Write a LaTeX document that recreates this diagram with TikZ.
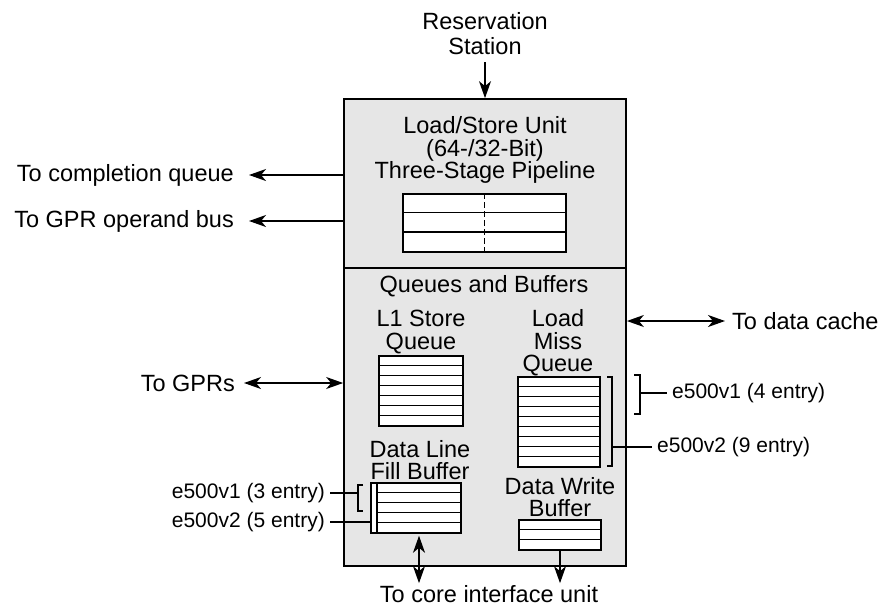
\documentclass[tikz,border=0pt]{standalone}
\usepackage{fontspec}
\setmainfont{Liberation Sans}
\usetikzlibrary{arrows.meta,positioning}
\definecolor{unitgray}{RGB}{230,230,230}
\tikzset{
    unitbox/.style={draw, line width=1.7pt, fill=unitgray, inner sep=0pt},
    queuebox/.style={draw, line width=1.5pt, fill=white, inner sep=0pt},
    rowline/.style={line width=1.4pt},
    lbl/.style={inner sep=0pt, align=center, font=\fontsize{23.5}{22.5}\selectfont},
    smalllbl/.style={inner sep=0pt, font=\fontsize{21}{21}\selectfont},
    conn/.style={line width=1.5pt, -{Stealth[length=17pt,width=12pt,inset=5pt]}},
    twoway/.style={line width=1.5pt, {Stealth[length=17pt,width=12pt,inset=5pt]}-{Stealth[length=17pt,width=12pt,inset=5pt]}},
    brk/.style={line width=1.5pt}
}
\begin{document}
\begin{tikzpicture}[x=1pt,y=-1pt]
        \useasboundingbox (0,0) rectangle (880,608);
        % unit outline
        \node[unitbox, minimum width=282pt, minimum height=298pt] (qb) at (485,417) {};
        \node[unitbox, minimum width=282pt, minimum height=169pt] (lsu) at (485,183.5) {};
        % queues and buffers
        \node[queuebox, minimum width=163pt, minimum height=58pt] (pipe) at (484.5,223) {};
        \node[queuebox, minimum width=84pt, minimum height=70pt] (stq) at (421,391) {};
        \node[queuebox, minimum width=82pt, minimum height=90pt] (lmq) at (559,422) {};
        \node[queuebox, minimum width=84pt, minimum height=50pt] (fill) at (419,508) {};
        \node[queuebox, minimum width=6pt, minimum height=50pt] (fillcol) at (374,508) {};
        \node[queuebox, minimum width=82pt, minimum height=30pt] (dwb) at (560,535) {};
        \foreach \i in {1,2} {
            \draw[rowline] ([yshift={-58pt/3*\i}]pipe.north west) -- ([yshift={-58pt/3*\i}]pipe.north east);
        };
        \draw[rowline, dash pattern=on 6pt off 3pt] (pipe.north) -- (pipe.south);
        \foreach \i in {1,...,6} {
            \draw[rowline] ([yshift={-10pt*\i}]stq.north west) -- ([yshift={-10pt*\i}]stq.north east);
        };
        \foreach \i in {1,...,8} {
            \draw[rowline] ([yshift={-10pt*\i}]lmq.north west) -- ([yshift={-10pt*\i}]lmq.north east);
        };
        \foreach \i in {1,...,4} {
            \draw[rowline] ([yshift={-10pt*\i}]fill.north west) -- ([yshift={-10pt*\i}]fill.north east);
        };
        \foreach \i in {1,2} {
            \draw[rowline] ([yshift={-10pt*\i}]dwb.north west) -- ([yshift={-10pt*\i}]dwb.north east);
        };
        % titles
        \node[lbl, font=\fontsize{23.5}{25}\selectfont] (res) at (485,34) {Reservation\\Station};
        \node[lbl] (lsutext) at (485,150) {Load/Store Unit\\(64-/32-Bit)\\Three-Stage Pipeline};
        \node[lbl] (qbtext) at (484,286) {Queues and Buffers};
        \node[lbl] (stqtext) at (421,332) {L1 Store\\Queue};
        \node[lbl] (lmqtext) at (558,343) {Load\\Miss\\Queue};
        \node[lbl] (filltext) at (420,460) {Data Line\\Fill Buffer};
        \node[lbl] (dwbtext) at (560,497) {Data Write\\Buffer};
        % outside labels
        \node[lbl, anchor=east] (cq) at (234,175) {To completion queue};
        \node[lbl, anchor=east] (gob) at (234,221) {To GPR operand bus};
        \node[lbl, anchor=east] (gprs) at (235,383) {To GPRs};
        \node[lbl, anchor=west] (dc) at (732,321) {To data cache};
        \node[lbl] (core) at (489,594) {To core interface unit};
        \node[smalllbl, anchor=west] (v1r) at (672,393) {e500v1 (4 entry)};
        \node[smalllbl, anchor=west] (v2r) at (657,447) {e500v2 (9 entry)};
        \node[smalllbl, anchor=east] (v1l) at (325,493) {e500v1 (3 entry)};
        \node[smalllbl, anchor=east] (v2l) at (325,522) {e500v2 (5 entry)};
        % connectors
        \draw[conn, shorten <=7pt] (res.south) -- (lsu.north);
        \draw[conn, shorten >=15pt] (lsu.west |- cq) -- (cq.east);
        \draw[conn, shorten >=15pt] (lsu.west |- gob) -- (gob.east);
        \draw[twoway, shorten <=9pt] (gprs.east) -- (qb.west |- gprs);
        \draw[twoway, shorten >=7pt] (qb.east |- dc) -- (dc.west);
        \draw[twoway, shorten <=2pt, shorten >=2pt] (fill.south) -- (fill.south |- core.north);
        \draw[conn, shorten >=2pt] (dwb.south) -- (dwb.south |- core.north);
        % entry brackets
        \coordinate (lmqb) at (612,447);
        \coordinate (v1rb) at (640,393);
        \coordinate (v1lb) at (358,493);
        \draw[brk] (607,377) -- (612,377) -- (612,466) -- (607,466);
        \draw[brk] (634,375) -- (640,375) -- (640,414) -- (634,414);
        \draw[brk] (363,485) -- (358,485) -- (358,511) -- (363,511);
        \draw[brk, shorten >=5pt] (lmqb) -- (v2r.west);
        \draw[brk, shorten >=5pt] (v1rb) -- (v1r.west);
        \draw[brk, shorten <=5pt] (v1l.east) -- (v1lb);
        \draw[brk, shorten <=5pt] (v2l.east) -- (fillcol.west |- v2l);
    \end{tikzpicture}
\end{document}
